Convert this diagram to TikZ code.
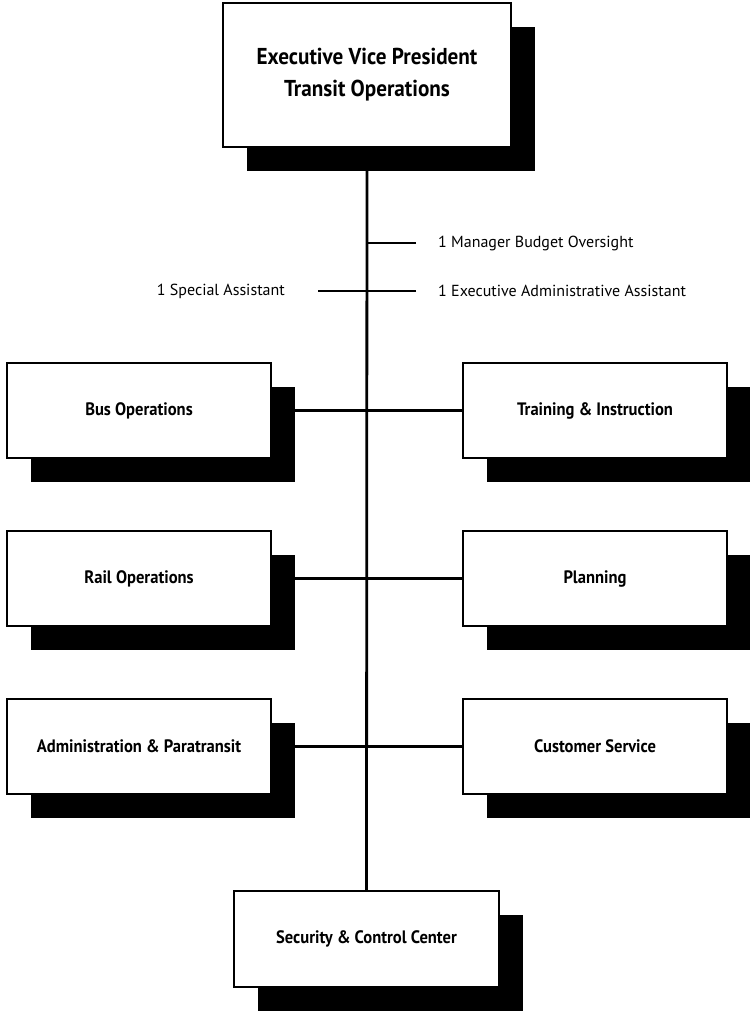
\documentclass[tikz,border=0pt]{standalone}
\usepackage{fontspec}
\setmainfont{PT Sans}
\newfontfamily\boxfont{PT Sans}[FakeStretch=0.92]
\usetikzlibrary{shadows,backgrounds}

\tikzset{
  unitbox/.style={draw=black, line width=1.8pt, fill=white,
    minimum width=264pt, minimum height=95pt, inner sep=0pt,
    font=\boxfont\bfseries\fontsize{18}{22}\selectfont, align=center,
    drop shadow={shadow xshift=24pt, shadow yshift=-24pt, fill=black, opacity=1}},
  headbox/.style={unitbox, minimum width=288pt, minimum height=144pt,
    font=\boxfont\bfseries\fontsize{23}{32}\selectfont},
  spine/.style={line width=2.8pt},
  branch/.style={line width=2.4pt},
  staff/.style={font=\fontsize{16}{19}\selectfont, inner sep=0pt}
}

\begin{document}
\begin{tikzpicture}[x=1pt, y=-1pt]
  \useasboundingbox (0,0) rectangle (750,1013);

  % executive office
  \node[headbox] (evp) at (367,75) {Executive Vice President\\Transit Operations};

  % departments
  \node[unitbox] (bus)   at (139,410.5) {Bus Operations};
  \node[unitbox] (rail)  at (139,578.5) {Rail Operations};
  \node[unitbox] (admin) at (139,746.5) {Administration \& Paratransit};
  \node[unitbox] (train) at (595,410.5) {Training \& Instruction};
  \node[unitbox] (plan)  at (595,578.5) {Planning};
  \node[unitbox] (cust)  at (595,746.5) {Customer Service};
  \node[unitbox, minimum width=265pt, minimum height=96pt] (sec) at (366.5,939) {Security \& Control Center};

  % staff positions
  \node[staff, anchor=west] (mbo) at (438,243) {1 Manager Budget Oversight};
  \node[staff, anchor=west] (eaa) at (438,291) {1 Executive Administrative Assistant};
  \node[staff, anchor=east] (spa) at (285,291) {1 Special Assistant};

  % connectors run behind the boxes and their shadows
  \begin{scope}[on background layer]
    \fill[white] (0,0) rectangle (750,1013);
    \draw[spine] (evp.south) -- (sec.north);
    \draw[branch] (bus.east)   -- (train.west);
    \draw[branch] (rail.east)  -- (plan.west);
    \draw[branch] (admin.east) -- (cust.west);
    \draw[branch] ([xshift=-22pt]mbo.west) -- (mbo.west -| evp.south);
    \draw[branch] ([xshift=-22pt]eaa.west) -- ([xshift=33pt]spa.east);
  \end{scope}
\end{tikzpicture}
\end{document}
